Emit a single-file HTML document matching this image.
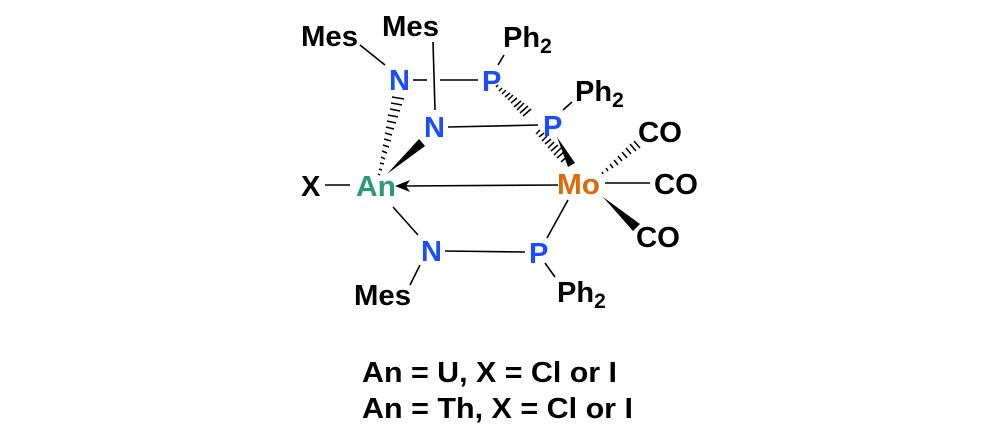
<!DOCTYPE html>
<html><head><meta charset="utf-8"><style>html,body{margin:0;padding:0;background:#fff}svg{display:block}</style></head>
<body>
<svg width="1000" height="438" viewBox="0 0 1000 438" xmlns="http://www.w3.org/2000/svg">
<g stroke="#000" stroke-width="1.6" fill="none">
<line x1="360" y1="45" x2="385" y2="65"/>
<line x1="413" y1="80" x2="427" y2="80"/>
<line x1="440" y1="80" x2="478" y2="80"/>
<line x1="433" y1="42" x2="435" y2="110"/>
<line x1="498" y1="65" x2="504" y2="55"/>
<line x1="448" y1="127" x2="538" y2="125"/>
<line x1="563" y1="110" x2="572" y2="102"/>
<line x1="605" y1="183" x2="650" y2="183"/>
<line x1="325" y1="185" x2="350" y2="185"/>
<line x1="558" y1="185" x2="405" y2="186"/>
<line x1="393" y1="207" x2="418" y2="235"/>
<line x1="445" y1="251" x2="525" y2="252"/>
<line x1="547" y1="238" x2="568" y2="200"/>
<line x1="545" y1="263" x2="555" y2="277"/>
<line x1="420" y1="265" x2="410" y2="285"/>
</g>
<polygon points="395,186 410,180 406,186 410,192" fill="#000"/>
<g stroke="#000" stroke-width="1.5">
<line x1="496" y1="87" x2="498" y2="85"/><line x1="499" y1="91" x2="502" y2="88"/><line x1="502" y1="94" x2="506" y2="90"/><line x1="505" y1="97" x2="510" y2="93"/><line x1="508" y1="100" x2="513" y2="95"/><line x1="511" y1="103" x2="517" y2="98"/><line x1="514" y1="107" x2="521" y2="101"/><line x1="517" y1="110" x2="524" y2="103"/><line x1="520" y1="113" x2="528" y2="106"/><line x1="523" y1="116" x2="531" y2="109"/>
<line x1="536" y1="134" x2="540" y2="130"/><line x1="539" y1="137" x2="544" y2="133"/><line x1="542" y1="141" x2="547" y2="136"/><line x1="545" y1="144" x2="551" y2="139"/><line x1="548" y1="148" x2="554" y2="142"/><line x1="551" y1="151" x2="558" y2="145"/><line x1="554" y1="155" x2="561" y2="148"/><line x1="557" y1="158" x2="565" y2="151"/><line x1="561" y1="162" x2="569" y2="155"/>
<line x1="392" y1="97" x2="404" y2="99"/><line x1="391" y1="103" x2="402" y2="105"/><line x1="390" y1="109" x2="400" y2="111"/><line x1="388" y1="115" x2="398" y2="117"/><line x1="387" y1="121" x2="396" y2="123"/><line x1="386" y1="127" x2="394" y2="129"/><line x1="385" y1="133" x2="392" y2="135"/><line x1="384" y1="139" x2="391" y2="141"/><line x1="383" y1="145" x2="389" y2="147"/><line x1="382" y1="151" x2="387" y2="153"/><line x1="381" y1="157" x2="385" y2="159"/><line x1="380" y1="163" x2="384" y2="164"/><line x1="379" y1="169" x2="382" y2="170"/><line x1="378" y1="174" x2="380" y2="175"/>
<line x1="602" y1="172" x2="603" y2="174"/><line x1="606" y1="168" x2="608" y2="171"/><line x1="610" y1="164" x2="613" y2="168"/><line x1="614" y1="160" x2="618" y2="165"/><line x1="618" y1="156" x2="622" y2="161"/><line x1="622" y1="152" x2="627" y2="158"/><line x1="626" y1="148" x2="631" y2="154"/><line x1="630" y1="144" x2="636" y2="151"/><line x1="634" y1="141" x2="640" y2="148"/>
</g>
<polygon points="387,174 419,139 425,146" fill="#000"/>
<polygon points="557,137 575,163 568,167" fill="#000"/>
<polygon points="603,197 640,224 633,231" fill="#000"/>
<g font-family="Liberation Sans, sans-serif" font-weight="bold" font-size="29">
<text x="301" y="46" fill="#000" textLength="57" lengthAdjust="spacingAndGlyphs">Mes</text>
<text x="382" y="36" fill="#000" textLength="57" lengthAdjust="spacingAndGlyphs">Mes</text>
<text x="503" y="47" fill="#000">Ph<tspan font-size="21" dy="6">2</tspan></text>
<text x="575" y="101" fill="#000">Ph<tspan font-size="21" dy="6">2</tspan></text>
<text x="389" y="90" fill="#1a4dff">N</text>
<text x="482" y="91" fill="#1a4dff">P</text>
<text x="424" y="137" fill="#1a4dff">N</text>
<text x="543" y="136" fill="#1a4dff">P</text>
<text x="638" y="142" fill="#000" textLength="44" lengthAdjust="spacingAndGlyphs">CO</text>
<text x="301" y="196" fill="#000">X</text>
<text x="356" y="196" fill="#2a9a78" textLength="40" lengthAdjust="spacingAndGlyphs">An</text>
<text x="557" y="194" fill="#d96c0a" textLength="43" lengthAdjust="spacingAndGlyphs">Mo</text>
<text x="654" y="194" fill="#000" textLength="44" lengthAdjust="spacingAndGlyphs">CO</text>
<text x="636" y="247" fill="#000" textLength="44" lengthAdjust="spacingAndGlyphs">CO</text>
<text x="421" y="261" fill="#1a4dff">N</text>
<text x="529" y="263" fill="#1a4dff">P</text>
<text x="354" y="305" fill="#000" textLength="57" lengthAdjust="spacingAndGlyphs">Mes</text>
<text x="557" y="302" fill="#000">Ph<tspan font-size="21" dy="6">2</tspan></text>
<text x="362" y="382" fill="#000" textLength="255" lengthAdjust="spacingAndGlyphs">An = U, X = Cl or I</text>
<text x="362" y="418" fill="#000" textLength="271" lengthAdjust="spacingAndGlyphs">An = Th, X = Cl or I</text>
</g>
</svg>
</body></html>
